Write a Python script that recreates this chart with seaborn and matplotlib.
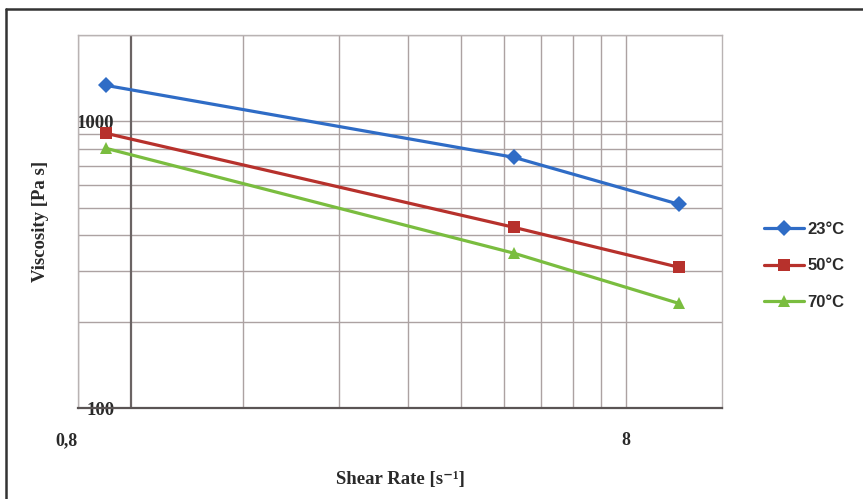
import numpy as np
import pandas as pd
import seaborn as sns
import matplotlib.pyplot as plt
from matplotlib.lines import Line2D

# values (log-log axes)
shear_rate = [0.9, 5.0, 10.0]
visc_23 = [1334, 749, 514]
visc_50 = [908, 427, 310]
visc_70 = [805, 347, 232]
series_names = ["23°C", "50°C", "70°C"]
series_colors = ["#2f6cc6", "#b7312c", "#7abd3f"]
series_markers = ["D", "s", "^"]

x_ticks = [0.8, 8]
x_tick_labels = ["0,8", "8"]
x_minor = [1.6, 2.4, 3.2, 4.0, 4.8, 5.6, 6.4, 7.2]
y_ticks = [100, 1000]
y_tick_labels = ["100", "1000"]
y_minor = [200, 300, 400, 500, 600, 700, 800, 900, 2000]

df = pd.DataFrame({
    "shear": shear_rate * 3,
    "visc": visc_23 + visc_50 + visc_70,
    "temp": np.repeat(series_names, len(shear_rate)),
})

sns.set_style("white")
plt.rcParams["font.family"] = ["Liberation Serif", "DejaVu Sans"]

fig = plt.figure(figsize=(8.63, 4.99), dpi=100)
ax = fig.add_axes([0.0904, 0.182, 0.7462, 0.748])
ax.set_xscale("log")
ax.set_yscale("log")

grid_col = "#aca2a2"
for v in x_ticks[:1] + x_minor + x_ticks[1:]:
    ax.axvline(v, color=grid_col, lw=1.0, zorder=0)
for v in y_minor + y_ticks[1:]:
    ax.axhline(v, color=grid_col, lw=1.0, zorder=0)
ax.axvline(1.0, color="#6b6464", lw=1.6, zorder=0)

sns.lineplot(data=df, x="shear", y="visc", hue="temp", style="temp",
             palette=dict(zip(series_names, series_colors)),
             markers=dict(zip(series_names, series_markers)),
             dashes=False, lw=2.3, markersize=8, markeredgewidth=0,
             legend=False, ax=ax, zorder=3)

ax.set_xlim(0.8, 12)
ax.set_ylim(100, 2000)
ax.set_xticks(x_ticks)
ax.set_xticklabels(x_tick_labels)
ax.set_xticks([], minor=True)
ax.set_yticks(y_ticks)
ax.set_yticklabels(y_tick_labels)
ax.set_yticks([], minor=True)
ax.tick_params(axis="x", length=5, width=1, color="#444", pad=12,
               labelsize=13, direction="out")
ax.tick_params(axis="y", length=0, pad=-26, labelsize=13.5)
for lab in ax.get_xticklabels() + ax.get_yticklabels():
    lab.set_fontweight("bold")
    lab.set_color("#2a2a2a")
ax.get_xticklabels()[0].set_horizontalalignment("right")

for side in ["top", "right", "left"]:
    ax.spines[side].set_color("#b9b3b3")
    ax.spines[side].set_linewidth(1.0)
ax.spines["bottom"].set_color("#5a5454")
ax.spines["bottom"].set_linewidth(1.6)

ax.set_xlabel("Shear Rate [s⁻¹]", fontsize=13.5,
              fontweight="bold", labelpad=16, color="#2a2a2a")
ax.set_ylabel("Viscosity [Pa s]", fontsize=13.5, fontweight="bold",
              labelpad=20, color="#2a2a2a")

handles = [Line2D([], [], color=c, marker=m, lw=2.3, markersize=8,
                  markeredgewidth=0) for c, m in zip(series_colors, series_markers)]
fig.legend(handles, series_names, loc="center left",
           bbox_to_anchor=(0.868, 0.467), frameon=False,
           prop={"family": "Liberation Sans", "size": 12, "weight": "bold"},
           labelcolor="#2a2a2a",
           handlelength=2.4, handletextpad=0.2, labelspacing=1.3)

# outer frame of the figure
fig.add_artist(Line2D([0.007, 0.007], [0.0, 0.982], color="#333333", lw=1.8))
fig.add_artist(Line2D([0.007, 1.0], [0.982, 0.982], color="#333333", lw=1.8))

fig.savefig("out.png", dpi=100, facecolor="white")
